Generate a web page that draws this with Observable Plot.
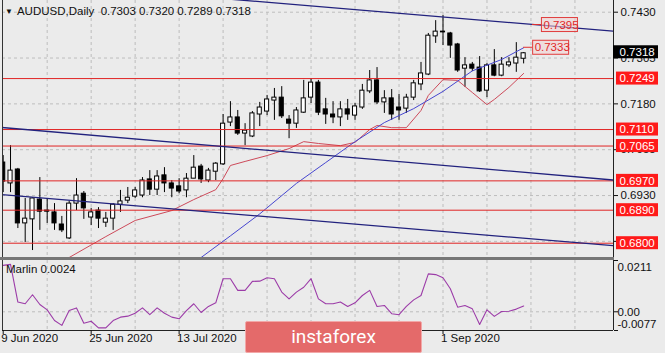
<!DOCTYPE html>
<html><head><meta charset="utf-8">
<script src="https://cdn.jsdelivr.net/npm/d3@7"></script>
<script src="https://cdn.jsdelivr.net/npm/@observablehq/plot@0.6"></script>
<style>
html,body{margin:0;padding:0;background:#ebebeb;}
#wrap{position:relative;width:665px;height:353px;overflow:hidden;background:#ebebeb;font-family:"Liberation Sans",Arial,sans-serif;}
#wrap svg{display:block;}
.ttl{position:absolute;left:5px;top:5px;font-size:11.5px;color:#111;white-space:pre;line-height:13px;}
.ttl .tri{font-size:8px;vertical-align:1px;margin-right:4px;}
.mar{position:absolute;left:6px;top:263px;font-size:11.5px;color:#111;white-space:pre;}
.sep{position:absolute;left:0;top:257px;width:614px;height:3px;background:#767676;}
.wm{position:absolute;left:245px;top:321px;width:175px;height:30px;background:#e46a6a;border:1px solid #f2a8a8;border-radius:2px;color:#fff;font-family:Roboto,"Open Sans",sans-serif;font-size:19px;line-height:30px;text-align:center;}
</style></head><body><div id="wrap"></div>
<script>
// ---- data (AUDUSD daily bars, 9 Jun 2020 .. 16 Sep 2020) ----
const dates = d3.utcDay.range(new Date(Date.UTC(2020,5,9)), new Date(Date.UTC(2020,8,17))).filter(d => d.getUTCDay() % 6 !== 0);
const open  = [0.7020,0.6963,0.7001,0.6854,0.6865,0.6919,0.6889,0.6884,0.6851,0.6813,0.6908,0.6935,0.6870,0.6889,0.6856,0.6867,0.6905,0.6916,0.6927,0.6930,0.6974,0.6946,0.6985,0.6963,0.6955,0.6944,0.6976,0.7009,0.6971,0.6995,0.7015,0.7129,0.7143,0.7099,0.7091,0.7151,0.7159,0.7189,0.7197,0.7137,0.7126,0.7156,0.7197,0.7238,0.7165,0.7151,0.7143,0.7165,0.7148,0.7170,0.7214,0.7244,0.7184,0.7195,0.7170,0.7167,0.7197,0.7233,0.7260,0.7364,0.7377,0.7372,0.7342,0.7276,0.7287,0.7279,0.7216,0.7285,0.7257,0.7285,0.7290,0.7303];
const high  = [0.7039,0.7066,0.7004,0.6922,0.6924,0.6979,0.6922,0.6908,0.6873,0.6914,0.6976,0.6941,0.6895,0.6897,0.6884,0.6908,0.6944,0.6952,0.6952,0.6979,0.6998,0.6998,0.7006,0.6971,0.6976,0.6990,0.7039,0.7015,0.7004,0.7020,0.7151,0.7186,0.7162,0.7126,0.7159,0.7184,0.7203,0.7222,0.7227,0.7148,0.7170,0.7244,0.7249,0.7244,0.7195,0.7186,0.7186,0.7192,0.7181,0.7233,0.7271,0.7279,0.7216,0.7219,0.7206,0.7206,0.7244,0.7293,0.7372,0.7407,0.7421,0.7375,0.7345,0.7306,0.7293,0.7309,0.7290,0.7328,0.7306,0.7306,0.7347,0.7320];
const low   = [0.6938,0.6938,0.6840,0.6802,0.6780,0.6835,0.6854,0.6835,0.6829,0.6810,0.6889,0.6865,0.6848,0.6840,0.6843,0.6835,0.6884,0.6908,0.6922,0.6924,0.6930,0.6930,0.6938,0.6924,0.6935,0.6924,0.6976,0.6963,0.6965,0.6971,0.7012,0.7118,0.7094,0.7066,0.7088,0.7118,0.7148,0.7135,0.7140,0.7085,0.7113,0.7154,0.7181,0.7148,0.7124,0.7126,0.7118,0.7135,0.7135,0.7165,0.7208,0.7178,0.7154,0.7135,0.7135,0.7154,0.7189,0.7216,0.7257,0.7345,0.7339,0.7304,0.7266,0.7225,0.7268,0.7211,0.7197,0.7254,0.7254,0.7279,0.7266,0.7289];
const close = [0.6968,0.6998,0.6854,0.6867,0.6922,0.6886,0.6886,0.6854,0.6835,0.6908,0.6930,0.6895,0.6884,0.6867,0.6867,0.6905,0.6914,0.6924,0.6944,0.6971,0.6946,0.6982,0.6963,0.6949,0.6941,0.6976,0.7006,0.6974,0.6998,0.7017,0.7126,0.7143,0.7099,0.7107,0.7154,0.7170,0.7192,0.7197,0.7146,0.7126,0.7162,0.7195,0.7238,0.7156,0.7151,0.7143,0.7165,0.7151,0.7173,0.7216,0.7244,0.7184,0.7195,0.7151,0.7162,0.7197,0.7236,0.7263,0.7366,0.7377,0.7375,0.7339,0.7271,0.7285,0.7276,0.7214,0.7285,0.7257,0.7287,0.7293,0.7306,0.7318];
// Marlin oscillator (lower pane)
const marlin = [0.0191,0.0195,0.0040,0.0033,0.0070,0.0030,0.0008,-0.0036,-0.0056,0.0005,0.0016,-0.0047,-0.0039,-0.0066,-0.0066,-0.0036,-0.0022,-0.0018,-0.0006,0.0016,-0.0012,0.0016,-0.0006,-0.0022,-0.0029,0.0005,0.0033,-0.0003,0.0022,0.0037,0.0136,0.0136,0.0088,0.0088,0.0125,0.0126,0.0140,0.0136,0.0081,0.0053,0.0081,0.0101,0.0136,0.0053,0.0033,0.0033,0.0040,0.0022,0.0037,0.0067,0.0088,0.0022,0.0026,-0.0008,-0.0012,0.0022,0.0049,0.0067,0.0156,0.0153,0.0140,0.0095,0.0019,0.0026,0.0012,-0.0052,0.0008,-0.0019,0.0001,0.0002,0.0011,0.0024];
// moving averages: [bar index, price]
const blueMA = [[27,0.6761],[31,0.6820],[35,0.6880],[40,0.6963],[44,0.7020],[48,0.7077],[52,0.7129],[56,0.7167],[60,0.7214],[64,0.7270],[68,0.7301],[71,0.7333]];
const redMA  = [[9,0.6761],[14,0.6818],[18,0.6862],[23,0.6889],[26,0.6919],[29,0.6946],[30,0.6976],[31,0.7012],[33,0.7023],[36,0.7039],[39,0.7058],[41,0.7077],[43,0.7072],[46,0.7066],[48,0.7075],[50,0.7110],[51,0.7121],[53,0.7115],[55,0.7115],[57,0.7162],[58,0.7203],[60,0.7246],[62,0.7244],[64,0.7211],[66,0.7178],[67,0.7192],[69,0.7225],[71,0.7263]];
// trend lines: [bar index, price]
const trendTop = [[30,0.7467],[84,0.7377]];
const trendMid = [[-1,0.7117],[84,0.6971]];
const trendLow = [[-1,0.6934],[84,0.6792]];
// horizontal levels
const levels = [0.7249,0.7110,0.7065,0.6970,0.6890,0.6800];
const yTicks = [0.7430,0.7305,0.7180,0.7055,0.6930,0.6805];
const yLabelTicks = [0.7430,0.7305,0.7180,0.7055,0.6930];
const lastPrice = 0.7318;
const priceNotes = [{i:72.2, v:0.7395, t:"0.7395"},{i:71, v:0.7333, t:"0.7333"}];
const tickIdx = [0,12,24,36,48,60];
const labelIdx = [0,12,24,60];
const tickLabels = ["9 Jun 2020","25 Jun 2020","13 Jul 2020","1 Sep 2020"];
const gridIdx = [6,12,18,24,30,36,42,48,54,60,66,72,78];
const title = "AUDUSD,Daily  0.7303 0.7320 0.7289 0.7318";
const indName = "Marlin 0.0024";
const indTicks = [{v:0.0211,t:"0.0211",dy:7},{v:0,t:"0.00",dy:1},{v:-0.0077,t:"-0.0077",dy:-6}];

// ---- drawing ----
const FONT = '"Liberation Sans", Arial, sans-serif';
const X0 = -0.0955, X1 = 83.26;
const idx = d3.range(open.length);
const up = idx.filter(i => close[i] >= open[i]);
const dn = idx.filter(i => close[i] < open[i]);
const GRID = {stroke:"#bdbdbd", strokeOpacity:1, strokeDasharray:"3,3"};
const BW = 0.28;

const main = Plot.plot({
  width:665, height:260, marginLeft:2, marginRight:52, marginTop:0, marginBottom:3,
  x:{domain:[X0,X1], axis:null},
  y:{domain:[0.676101,0.746191], axis:null},
  style:{background:"transparent", color:"#111", fontFamily:FONT, fontSize:"11.5px", overflow:"visible"},
  marks:[
    Plot.gridY(yTicks, GRID),
    Plot.gridX(gridIdx, GRID),
    Plot.ruleX(idx, {x:i=>i, y1:i=>low[i], y2:i=>high[i], stroke:"#000", clip:true}),
    Plot.rect(up, {x1:i=>i-BW, x2:i=>i+BW, y1:i=>open[i], y2:i=>close[i], fill:"#fff", stroke:"#000", clip:true}),
    Plot.rect(dn, {x1:i=>i-BW, x2:i=>i+BW, y1:i=>open[i], y2:i=>close[i], fill:"#000", stroke:"#000", clip:true}),
    Plot.line(redMA, {x:d=>d[0], y:d=>d[1], stroke:"#cd4a5a", strokeWidth:1, clip:true}),
    Plot.line(blueMA, {x:d=>d[0], y:d=>d[1], stroke:"#4646cf", strokeWidth:1, clip:true}),
    Plot.ruleY(levels, {stroke:"#e02424", strokeWidth:1}),
    Plot.line(trendTop, {x:d=>d[0], y:d=>d[1], stroke:"#22227e", strokeWidth:1.3, clip:true}),
    Plot.line(trendMid, {x:d=>d[0], y:d=>d[1], stroke:"#22227e", strokeWidth:1.3, clip:true}),
    Plot.line(trendLow, {x:d=>d[0], y:d=>d[1], stroke:"#22227e", strokeWidth:1.3, clip:true}),
    Plot.ruleX([X0], {stroke:"#333"}),
    Plot.ruleX([X1], {stroke:"#222"}),
    Plot.axisY(yTicks, {anchor:"right", tickSize:4, tickFormat:()=>"", label:null}),
    Plot.axisY(yLabelTicks, {anchor:"right", tickSize:0, tickPadding:7, tickFormat:d3.format(".4f"), label:null, fontSize:11.5})
  ]
});

const ind = Plot.plot({
  width:665, height:93, marginLeft:2, marginRight:52, marginTop:0, marginBottom:23,
  x:{domain:[X0,X1], axis:null},
  y:{domain:[-0.0077,0.0211], axis:null},
  style:{background:"transparent", color:"#111", fontFamily:FONT, fontSize:"11.5px", overflow:"visible"},
  marks:[
    Plot.gridX(gridIdx, GRID),
    Plot.ruleY([0], GRID),
    Plot.line(idx, {x:i=>i, y:i=>marlin[i], stroke:"#9c3ca8", strokeWidth:1.1}),
    Plot.ruleX([X0], {stroke:"#333"}),
    Plot.ruleX([X1], {stroke:"#222"}),
    Plot.ruleY([-0.0077], {stroke:"#222"}),
    Plot.axisY(indTicks.map(d=>d.v), {anchor:"right", tickSize:4, tickFormat:()=>"", label:null}),
    ...indTicks.map(d => Plot.text([d], {y:"v", text:"t", frameAnchor:"right", textAnchor:"start", dx:4, dy:d.dy, fontSize:11.5})),
    Plot.axisX(tickIdx, {anchor:"bottom", tickSize:4, tickFormat:()=>"", label:null}),
    Plot.text(labelIdx, {x:d=>d, text:(d,k)=>tickLabels[k], frameAnchor:"bottom", textAnchor:"start", dx:-2, dy:11, fontSize:11.5})
  ]
});

const wrap = document.getElementById("wrap");
wrap.appendChild(main);
wrap.appendChild(ind);

// price tags drawn with the chart's own scales
const yS = main.scale("y"), xS = main.scale("x");
const g = d3.select(main).append("g").attr("font-family", FONT).attr("font-size", 11.5).attr("text-anchor","start");
levels.forEach(v => {
  const y = yS.apply(v);
  g.append("rect").attr("x",616).attr("y",y-6.5).attr("width",42).attr("height",13).attr("fill","#ff1a1a");
  g.append("text").attr("x",619.5).attr("y",y).attr("dy","0.36em").attr("fill","#fff").text(d3.format(".4f")(v));
});
{
  const y = yS.apply(lastPrice);
  g.append("rect").attr("x",613).attr("y",y-7.5).attr("width",45).attr("height",13).attr("fill","#000");
  g.append("text").attr("x",619.5).attr("y",y-1).attr("dy","0.36em").attr("fill","#fff").text(d3.format(".4f")(lastPrice));
}
priceNotes.forEach(n => {
  const x = xS.apply(n.i), y = yS.apply(n.v);
  g.append("line").attr("x1",x).attr("x2",x+9).attr("y1",y).attr("y2",y).attr("stroke","#e03030");
  g.append("rect").attr("x",x+9.5).attr("y",y-7).attr("width",36).attr("height",14).attr("fill","#f2d2d2").attr("fill-opacity",0.55).attr("stroke","#e03c3c");
  g.append("text").attr("x",x+11.5).attr("y",y).attr("dy","0.36em").attr("fill","#e02828").text(n.t);
});

// header, indicator name, pane separator, watermark
const t = document.createElement("div"); t.className="ttl";
t.innerHTML = '<span class="tri">\u25BC</span>' + title; wrap.appendChild(t);
const m = document.createElement("div"); m.className="mar"; m.textContent = indName; wrap.appendChild(m);
const s = document.createElement("div"); s.className="sep"; wrap.appendChild(s);
const w = document.createElement("div"); w.className="wm"; w.textContent = "instaforex"; wrap.appendChild(w);
</script>
</body></html>
